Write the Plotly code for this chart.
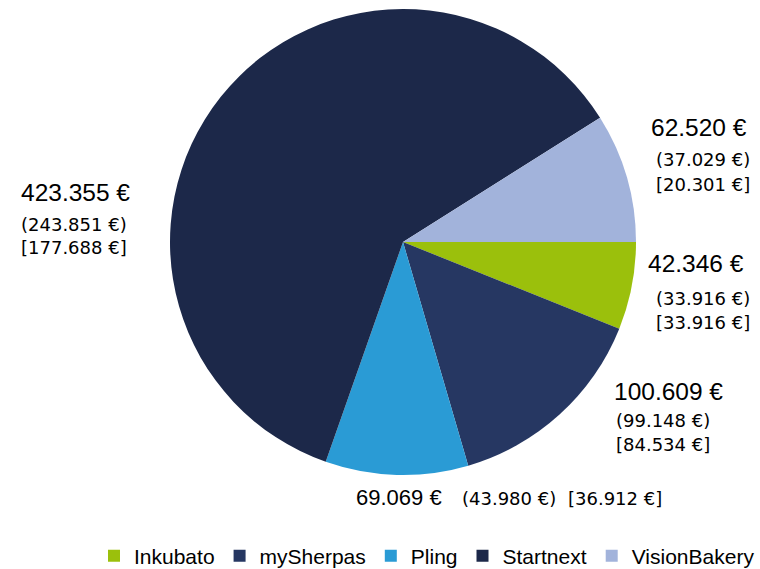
import plotly.graph_objects as go

categories = ["Inkubato", "mySherpas", "Pling", "Startnext", "VisionBakery"]
totals = [42346, 100609, 69069, 423355, 62520]
values_paren = [33916, 99148, 43980, 243851, 37029]
values_bracket = [33916, 84534, 36912, 177688, 20301]
colors = ["#9BC00C", "#263762", "#2A9BD5", "#1C2849", "#A2B3DB"]

W, H = 760, 569


def eur(v):
    return f"{v:,}".replace(",", ".") + " €"


fig = go.Figure()
fig.add_trace(go.Pie(
    labels=categories,
    values=totals,
    marker=dict(colors=colors, line=dict(width=0)),
    sort=False,
    direction="clockwise",
    rotation=90,
    textinfo="none",
    hoverinfo="label+value",
    domain=dict(x=[(403 - 233) / W, (403 + 233) / W], y=[1 - 475 / H, 1 - 9 / H]),
))

main_font = dict(family="Liberation Sans, Arial", size=24.5, color="#000000")
main_font_small = dict(family="Liberation Sans, Arial", size=22, color="#000000")
sub_font = dict(family="DejaVu Sans, Verdana", size=18, color="#000000")

# (x_main, y_main, x_sub, y_paren, y_bracket) in pixels
stacked = {
    "Startnext": (20, 192, 20, 225, 248),
    "VisionBakery": (650, 128, 655, 160, 184),
    "Inkubato": (647, 263, 655, 298, 322),
    "mySherpas": (613, 391, 615, 420, 444),
}

annotations = []
for i, cat in enumerate(categories):
    if cat in stacked:
        xm, ym, xs, yp, yb = stacked[cat]
        annotations.append(dict(text=eur(totals[i]), x=xm / W, y=1 - ym / H, font=main_font))
        annotations.append(dict(text="(" + eur(values_paren[i]) + ")", x=xs / W, y=1 - yp / H, font=sub_font))
        annotations.append(dict(text="[" + eur(values_bracket[i]) + "]", x=xs / W, y=1 - yb / H, font=sub_font))
    else:
        annotations.append(dict(text=eur(totals[i]), x=355 / W, y=1 - 497 / H, font=main_font_small))
        annotations.append(dict(text="(" + eur(values_paren[i]) + ")", x=461 / W, y=1 - 498 / H, font=sub_font))
        annotations.append(dict(text="[" + eur(values_bracket[i]) + "]", x=567 / W, y=1 - 498 / H, font=sub_font))

for a in annotations:
    a.update(xref="paper", yref="paper", xanchor="left", yanchor="middle",
             showarrow=False, borderpad=0)

fig.update_layout(
    width=W, height=H,
    margin=dict(l=0, r=0, t=0, b=0, autoexpand=False),
    paper_bgcolor="white",
    plot_bgcolor="white",
    annotations=annotations,
    showlegend=True,
    legend=dict(
        orientation="h",
        x=1.0, xanchor="right",
        y=1 - 556 / H, yanchor="middle",
        font=dict(family="Liberation Sans, Arial", size=21, color="#000000"),
        itemwidth=30,
        tracegroupgap=0,
    ),
)

fig.write_html(
    "out.html",
    config={"displayModeBar": False},
    post_script="document.body.style.margin='0';document.body.style.overflow='hidden';",
)
